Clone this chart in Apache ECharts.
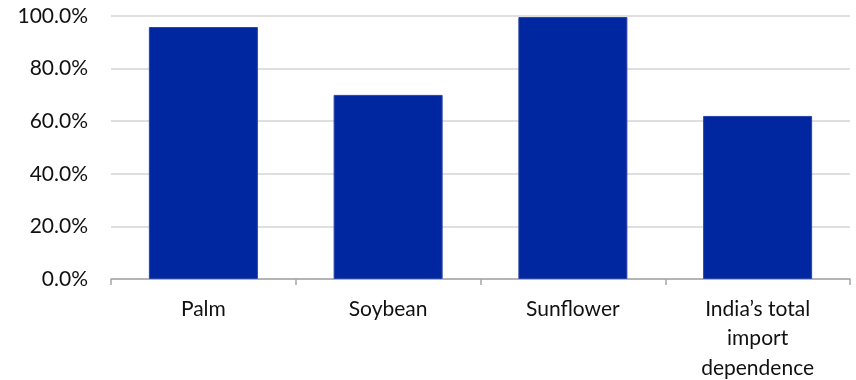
<!DOCTYPE html>
<html>
<head>
<meta charset="utf-8">
<script src="https://cdn.jsdelivr.net/npm/echarts@6/dist/echarts.min.js"></script>
<style>
  html, body { margin: 0; padding: 0; background: #fff; }
  #chart { width: 856px; height: 380px; }
</style>
</head>
<body>
<div id="chart"></div>
<script>
// Import dependence by edible oil type (share of consumption, %)
const categories = ['Palm', 'Soybean', 'Sunflower', 'India\u2019s total\nimport\ndependence'];
const importShare = [95.8, 70.0, 99.6, 62.0];
const yTicks = { min: 0, max: 100, step: 20 };

const chart = echarts.init(document.getElementById('chart'), null, { renderer: 'canvas' });
const font = 'Lato, "Open Sans", sans-serif';

chart.setOption({
  animation: false,
  backgroundColor: '#ffffff',
  grid: { left: 111, right: 6, top: 16, bottom: 101, containLabel: false, outerBoundsMode: 'none' },
  xAxis: {
    type: 'category',
    data: categories,
    boundaryGap: true,
    axisLine: { show: true, lineStyle: { color: '#a6a6a6', width: 1.5 } },
    axisTick: { show: true, length: 6, alignWithLabel: false, lineStyle: { color: '#a6a6a6', width: 1.5 } },
    axisLabel: {
      color: '#111111', fontFamily: font, fontSize: 21, lineHeight: 29.5,
      margin: 15, interval: 0, align: 'center'
    },
    splitLine: { show: false }
  },
  yAxis: {
    type: 'value',
    min: yTicks.min, max: yTicks.max, interval: yTicks.step,
    axisLine: { show: false },
    axisTick: { show: false },
    axisLabel: {
      color: '#111111', fontFamily: font, fontSize: 21, margin: 23,
      formatter: v => v.toFixed(1) + '%'
    },
    splitLine: { show: true, lineStyle: { color: '#d4d4d4', width: 1.5 } }
  },
  series: [{
    type: 'bar',
    data: importShare,
    barWidth: '59%',
    itemStyle: { color: '#0027a0', borderColor: '#2844a8', borderWidth: 1 }
  }]
});
</script>
</body>
</html>
